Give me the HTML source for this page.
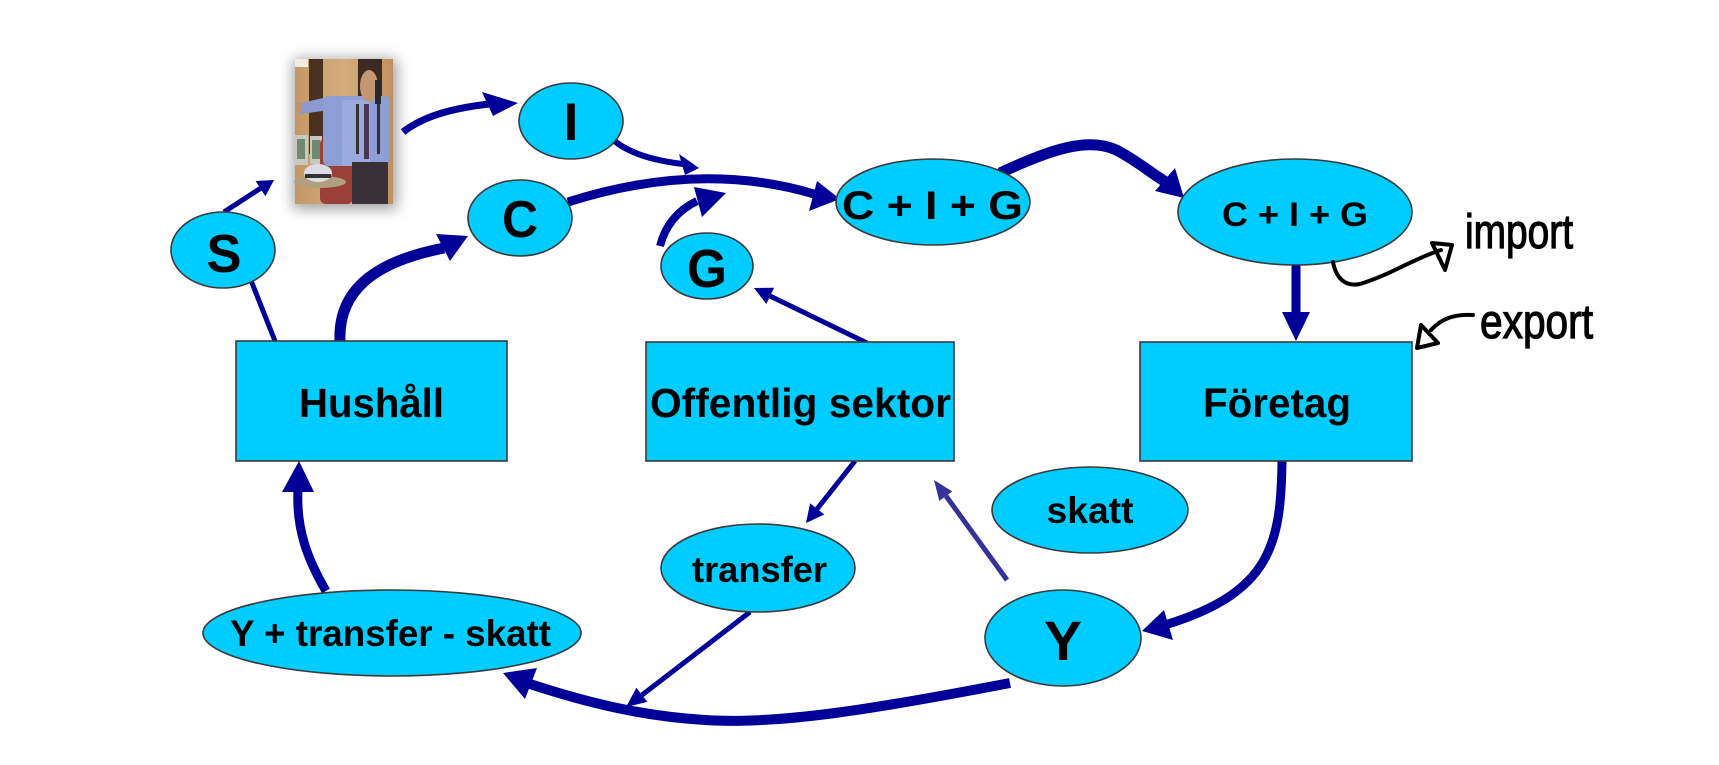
<!DOCTYPE html>
<html>
<head>
<meta charset="utf-8">
<style>
  html, body { margin:0; padding:0; background:#fff; }
  body { width:1719px; height:765px; overflow:hidden; }
  svg { display:block; }
  .node { fill:#00CCFF; stroke:#3a3a3a; stroke-width:1.6; }
  .t { font-family:"Liberation Sans", Arial, sans-serif; font-weight:bold; fill:#000; text-anchor:middle; }
  .hw { font-family:"Liberation Sans Narrow", "Liberation Sans", sans-serif; fill:#000; stroke:#000; stroke-width:1.2; }
  .ar { fill:none; stroke:#000099; stroke-linecap:butt; }
  .ah { fill:#000099; }
  .hl { fill:none; stroke:#000; stroke-width:4; stroke-linecap:round; stroke-linejoin:round; }
</style>
</head>
<body>
<svg width="1719" height="765" viewBox="0 0 1719 765" xmlns="http://www.w3.org/2000/svg">
  <defs>
    <filter id="blur" x="-50%" y="-50%" width="200%" height="200%">
      <feGaussianBlur stdDeviation="7"/>
    </filter>
    <linearGradient id="wall" x1="0" y1="0" x2="1" y2="0">
      <stop offset="0" stop-color="#c49866"/>
      <stop offset="0.5" stop-color="#d4ad7c"/>
      <stop offset="1" stop-color="#c09060"/>
    </linearGradient>
  </defs>

  <!-- Photo with soft shadow -->
  <rect x="293" y="59" width="104" height="150" fill="#777" opacity="0.7" filter="url(#blur)"/>
  <g>
    <rect x="295" y="59" width="98" height="145" fill="url(#wall)"/>
    <rect x="295" y="59" width="13" height="8" fill="#f2ece0"/>
    <rect x="309" y="59" width="14" height="95" fill="#4a3020"/>
    <rect x="358" y="59" width="24" height="45" fill="#3a2a22"/>
    <rect x="295" y="135" width="13" height="30" fill="#c8c8c0"/>
    <rect x="297" y="139" width="8" height="20" fill="#6f8a70"/>
    <rect x="310" y="136" width="12" height="28" fill="#c8c8c0"/>
    <rect x="312" y="140" width="8" height="19" fill="#6f8a70"/>
    <rect x="320" y="138" width="33" height="66" rx="6" fill="#9a4038"/>
    <polygon points="297,104 323,98 330,110 300,114" fill="#8a9ad0"/>
    <rect x="296" y="103" width="6" height="9" fill="#c09070"/>
    <rect x="323" y="96" width="67" height="70" rx="6" fill="#8e9fd6"/>
    <rect x="342" y="100" width="28" height="66" fill="#9aaade"/>
    <ellipse cx="369" cy="86" rx="9" ry="16" fill="#c59672"/>
    <rect x="375" y="80" width="6" height="24" fill="#2a2a2a"/>
    <rect x="364" y="104" width="5" height="55" fill="#4a3550"/>
    <rect x="356" y="104" width="3" height="50" fill="#333"/>
    <rect x="377" y="104" width="3" height="50" fill="#333"/>
    <rect x="352" y="162" width="36" height="42" fill="#3a3038"/>
    <ellipse cx="320" cy="182" rx="26" ry="6" fill="#b0a080"/>
    <ellipse cx="318" cy="173" rx="14" ry="9" fill="#dcdce4"/>
    <rect x="305" y="174" width="26" height="4" fill="#333"/>
  </g>

  <!-- ============ CONNECTORS ============ -->
  <line class="ar" x1="224" y1="212" x2="261" y2="188" stroke-width="5"/>
  <polygon class="ah" points="274,180 265.4,196.2 255.6,181"/>
  <line class="ar" x1="275" y1="341" x2="250" y2="278" stroke-width="5"/>
  <path class="ar" d="M340,341 C338,292 372,262 444,248" stroke-width="11"/>
  <polygon class="ah" points="468,236 450,261 436,234"/>
  <path class="ar" d="M403,132 C425,115 455,108 489,104" stroke-width="7"/>
  <polygon class="ah" points="518,103 482,92 493,116"/>
  <path class="ar" d="M610,137 C625,152 650,160 683,164" stroke-width="6"/>
  <polygon class="ah" points="699,168 679,154 685,175"/>
  <path class="ar" d="M568,202 Q700,160 814,194" stroke-width="9"/>
  <polygon class="ah" points="840,199 817,181 809,211"/>
  <path class="ar" d="M660,246 Q668,215 697,201" stroke-width="8"/>
  <polygon class="ah" points="726,193 694,187 702,217"/>
  <line class="ar" x1="867" y1="343" x2="770" y2="296" stroke-width="5"/>
  <polygon class="ah" points="754,288 774.1,287.8 766.3,304"/>
  <path class="ar" d="M1000,173 C1050,150 1090,135 1120,152 C1140,163 1155,176 1166,182" stroke-width="11"/>
  <polygon class="ah" points="1184,198 1155,191 1175,168"/>
  <line class="ar" x1="1296" y1="265" x2="1296" y2="313" stroke-width="9"/>
  <polygon class="ah" points="1296,341 1282,312 1310,312"/>
  <path class="ar" d="M1282,461 C1281,545 1270,592 1168,624" stroke-width="9"/>
  <polygon class="ah" points="1142,631 1164,610 1173,640"/>
  <line x1="1007" y1="580" x2="946" y2="496" stroke="#333399" stroke-width="5"/>
  <polygon fill="#333399" points="934,480 952.3,491.5 939.3,500.9"/>
  <line class="ar" x1="855" y1="461" x2="817" y2="509" stroke-width="5"/>
  <polygon class="ah" points="806,523 810.1,503.3 824.3,514.5"/>
  <line class="ar" x1="750" y1="612" x2="642" y2="695" stroke-width="5"/>
  <polygon class="ah" points="626,707 636.4,687.7 647.4,701.9"/>
  <path class="ar" d="M1010,683 C880,708 780,725 705,720 C640,716 585,702 530,684" stroke-width="10"/>
  <polygon class="ah" points="503,673 537,668 525,699"/>
  <path class="ar" d="M326,591 C308,560 296,530 298,490" stroke-width="9"/>
  <polygon class="ah" points="299,461 282,492 314,492"/>

  <!-- ============ NODES ============ -->
  <rect class="node" x="236" y="341" width="271" height="120"/>
  <rect class="node" x="646" y="342" width="308" height="119"/>
  <rect class="node" x="1140" y="342" width="272" height="119"/>

  <ellipse class="node" cx="223" cy="250" rx="52" ry="38"/>
  <ellipse class="node" cx="571" cy="121" rx="52" ry="38"/>
  <ellipse class="node" cx="520" cy="218" rx="52" ry="38"/>
  <ellipse class="node" cx="707" cy="266" rx="46" ry="33"/>
  <ellipse class="node" cx="933" cy="202" rx="97" ry="43"/>
  <ellipse class="node" cx="1295" cy="212" rx="117" ry="53"/>
  <ellipse class="node" cx="1090" cy="510" rx="98" ry="43"/>
  <ellipse class="node" cx="1063" cy="638" rx="78" ry="48"/>
  <ellipse class="node" cx="758" cy="568" rx="97" ry="44"/>
  <ellipse class="node" cx="392" cy="633" rx="189" ry="43"/>

  <!-- ============ LABELS ============ -->
  <text class="t" x="371.5" y="417" font-size="41" textLength="145" lengthAdjust="spacingAndGlyphs">Hushåll</text>
  <text class="t" x="800.5" y="417" font-size="41" textLength="301" lengthAdjust="spacingAndGlyphs">Offentlig sektor</text>
  <text class="t" x="1277" y="417" font-size="41" textLength="148" lengthAdjust="spacingAndGlyphs">Företag</text>

  <text class="t" x="224" y="272" font-size="54" textLength="35" lengthAdjust="spacingAndGlyphs">S</text>
  <text class="t" x="571" y="140" font-size="53">I</text>
  <text class="t" x="520" y="237" font-size="52" textLength="36" lengthAdjust="spacingAndGlyphs">C</text>
  <text class="t" x="707" y="287" font-size="54" textLength="40" lengthAdjust="spacingAndGlyphs">G</text>

  <text class="t" x="932.5" y="219" font-size="40" textLength="181" lengthAdjust="spacingAndGlyphs">C + I + G</text>
  <text class="t" x="1295" y="226" font-size="34" textLength="146" lengthAdjust="spacingAndGlyphs">C + I + G</text>

  <text class="t" x="1090" y="523" font-size="37" textLength="87" lengthAdjust="spacingAndGlyphs">skatt</text>
  <text class="t" x="1063" y="660" font-size="56" textLength="38" lengthAdjust="spacingAndGlyphs">Y</text>
  <text class="t" x="759.5" y="582" font-size="36" textLength="135" lengthAdjust="spacingAndGlyphs">transfer</text>
  <text class="t" x="390.5" y="646" font-size="37" textLength="321" lengthAdjust="spacingAndGlyphs">Y + transfer - skatt</text>

  <!-- ============ HANDWRITING ============ -->
  <path class="hl" d="M1333,262 C1336,278 1345,287 1360,284 C1390,275 1415,258 1441,250"/>
  <polygon points="1432,243 1452,245 1445,270" fill="none" stroke="#000" stroke-width="4" stroke-linejoin="round"/>
  <text class="hw" x="1465" y="248" font-size="48" textLength="108" lengthAdjust="spacingAndGlyphs">import</text>

  <path class="hl" d="M1473,315 C1455,314 1442,318 1431,330"/>
  <polygon points="1421,325 1417,348 1438,343" fill="none" stroke="#000" stroke-width="4" stroke-linejoin="round"/>
  <text class="hw" x="1480" y="338" font-size="48" textLength="113" lengthAdjust="spacingAndGlyphs">export</text>
</svg>
</body>
</html>
